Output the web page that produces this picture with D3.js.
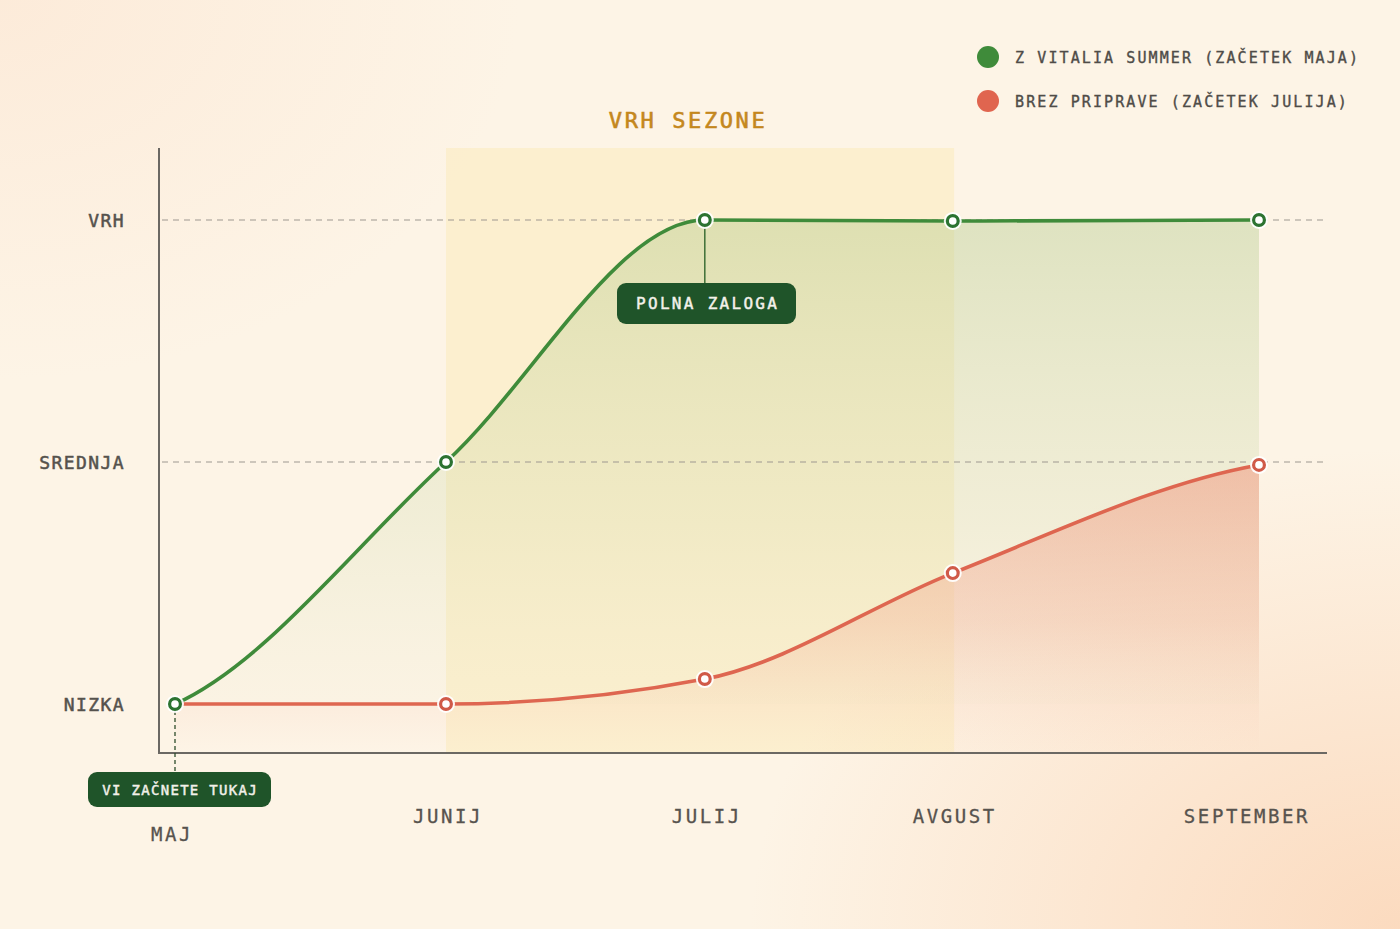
<!DOCTYPE html>
<html>
<head>
<meta charset="utf-8">
<script src="https://cdn.jsdelivr.net/npm/d3@7"></script>
<style>
  html, body { margin: 0; padding: 0; }
  body {
    width: 1400px; height: 929px; overflow: hidden;
    background:
      radial-gradient(ellipse 650px 480px at 100% 100%, rgba(251,214,184,0.85), rgba(251,214,184,0) 100%),
      radial-gradient(ellipse 520px 380px at 0% 0%, rgba(252,231,212,0.7), rgba(252,231,212,0) 100%),
      #fdf4e6;
  }
  svg { display: block; }
  text { font-family: "DejaVu Sans Mono", "Liberation Mono", monospace; }
</style>
</head>
<body>
<svg id="chart" width="1400" height="929"></svg>
<script>
// ---- data ----
const months = ["MAJ", "JUNIJ", "JULIJ", "AVGUST", "SEPTEMBER"];
const monthPos = [0, 1, 1.955, 2.87, 4];          // position in months from start of May
const levels = ["NIZKA", "SREDNJA", "VRH"];
const vitalia = [0, 1, 2, 1.996, 2];              // Z Vitalia Summer (začetek maja)
const brez = [0, 0, 0.103, 0.541, 0.988];         // Brez priprave (začetek julija)
const seriesNames = ["Z VITALIA SUMMER (ZAČETEK MAJA)", "BREZ PRIPRAVE (ZAČETEK JULIJA)"];
const seasonRange = [1, 2.875];                    // Vrh sezone: junij – avgust
const seasonLabel = "VRH SEZONE";
const annotations = ["POLNA ZALOGA", "VI ZAČNETE TUKAJ"];

// ---- smooth curve: monotone (Steffen) interior tangents, eased endpoints ----
function sgn(v) { return v < 0 ? -1 : 1; }
function EaseCurve(context) { this._context = context; }
EaseCurve.prototype = {
  areaStart() { this._line = 0; },
  areaEnd() { this._line = NaN; },
  lineStart() { this._pts = []; },
  point(px, py) { this._pts.push([+px, +py]); },
  lineEnd() {
    const p = this._pts, n = p.length, c = this._context;
    if (n) {
      if (this._line) c.lineTo(p[0][0], p[0][1]); else c.moveTo(p[0][0], p[0][1]);
    }
    if (n === 2) c.lineTo(p[1][0], p[1][1]);
    if (n > 2) {
      const t = new Array(n);
      for (let i = 1; i < n - 1; i++) {
        const h0 = p[i][0] - p[i - 1][0], h1 = p[i + 1][0] - p[i][0];
        const s0 = (p[i][1] - p[i - 1][1]) / h0, s1 = (p[i + 1][1] - p[i][1]) / h1;
        const q = (s0 * h1 + s1 * h0) / (h0 + h1);
        t[i] = (sgn(s0) + sgn(s1)) * Math.min(Math.abs(s0), Math.abs(s1), 0.5 * Math.abs(q)) || 0;
      }
      t[0] = 0.5 * (p[1][1] - p[0][1]) / (p[1][0] - p[0][0]);
      t[n - 1] = 0.5 * (p[n - 1][1] - p[n - 2][1]) / (p[n - 1][0] - p[n - 2][0]);
      for (let i = 0; i < n - 1; i++) {
        const dx = (p[i + 1][0] - p[i][0]) / 3;
        c.bezierCurveTo(p[i][0] + dx, p[i][1] + dx * t[i],
                        p[i + 1][0] - dx, p[i + 1][1] - dx * t[i + 1],
                        p[i + 1][0], p[i + 1][1]);
      }
    }
    if (this._line || (this._line !== 0 && n === 1)) c.closePath();
    this._line = 1 - this._line;
  }
};
const curveEase = ctx => new EaseCurve(ctx);

// ---- setup ----
const svg = d3.select("#chart");
const green = "#3f8b3a", red = "#de6650", dark = "#1f5429";
const x = d3.scaleLinear().domain([0, 4]).range([175, 1259]);
const y = d3.scaleLinear().domain([0, 2]).range([704, 220]);
const plotTop = 148, plotBottom = 753, axisLeft = 159, axisRight = 1327;

const defs = svg.append("defs");
const gG = defs.append("linearGradient").attr("id", "gfill")
  .attr("gradientUnits", "userSpaceOnUse").attr("x1", 0).attr("y1", 220).attr("x2", 0).attr("y2", 720);
gG.append("stop").attr("offset", 0).attr("stop-color", "#a8c47e").attr("stop-opacity", 0.36);
gG.append("stop").attr("offset", 0.6).attr("stop-color", "#c3d59c").attr("stop-opacity", 0.2);
gG.append("stop").attr("offset", 1).attr("stop-color", "#dbe5bd").attr("stop-opacity", 0.05);
const rG = defs.append("linearGradient").attr("id", "rfill")
  .attr("gradientUnits", "userSpaceOnUse").attr("x1", 0).attr("y1", 462).attr("x2", 0).attr("y2", 753);
rG.append("stop").attr("offset", 0).attr("stop-color", "#f09d85").attr("stop-opacity", 0.58);
rG.append("stop").attr("offset", 0.55).attr("stop-color", "#f3ae96").attr("stop-opacity", 0.36);
rG.append("stop").attr("offset", 1).attr("stop-color", "#f6c4ad").attr("stop-opacity", 0.0);

// season band
svg.append("rect")
  .attr("x", x(seasonRange[0])).attr("y", plotTop)
  .attr("width", x(seasonRange[1]) - x(seasonRange[0])).attr("height", plotBottom - plotTop)
  .attr("fill", "#fbe6b0").attr("opacity", 0.42);
svg.append("text")
  .attr("x", (x(seasonRange[0]) + x(seasonRange[1])) / 2 - 12).attr("y", 128)
  .attr("text-anchor", "middle").attr("font-size", 22).attr("font-weight", 400)
  .attr("stroke", "#c4871d").attr("stroke-width", 0.6)
  .attr("letter-spacing", 2.6).attr("fill", "#c4871d").text(seasonLabel);

const ptsG = monthPos.map((p, i) => [p, vitalia[i]]);
const ptsR = monthPos.map((p, i) => [p, brez[i]]);

// fills
svg.append("path").datum(ptsG)
  .attr("d", d3.area().x(d => x(d[0])).y0(y(0)).y1(d => y(d[1])).curve(curveEase))
  .attr("fill", "url(#gfill)");
svg.append("path").datum(ptsR)
  .attr("d", d3.area().x(d => x(d[0])).y0(plotBottom).y1(d => y(d[1])).curve(curveEase))
  .attr("fill", "url(#rfill)");

// grid lines
[1, 2].forEach(v => {
  svg.append("line").attr("x1", axisLeft + 3).attr("x2", axisRight)
    .attr("y1", y(v)).attr("y2", y(v))
    .attr("stroke", "#9d978f").attr("stroke-width", 1.2).attr("stroke-dasharray", "6,5");
});

// axes
const yAxis = d3.axisLeft(y).tickValues([0, 1, 2]).tickFormat(d => levels[d]).tickSize(0).tickPadding(34);
const yg = svg.append("g").attr("transform", `translate(${axisLeft},0)`).call(yAxis);
yg.select(".domain").remove();
yg.selectAll("text").attr("font-size", 18).attr("font-weight", 400).attr("letter-spacing", 1.4)
  .attr("fill", "#55524d").attr("stroke", "#55524d").attr("stroke-width", 0.5)
  .attr("font-family", "DejaVu Sans Mono").attr("dy", "0.35em");
svg.append("line").attr("x1", axisLeft).attr("x2", axisLeft).attr("y1", plotTop).attr("y2", plotBottom)
  .attr("stroke", "#6b6863").attr("stroke-width", 2);
svg.append("line").attr("x1", axisLeft - 1).attr("x2", axisRight).attr("y1", plotBottom).attr("y2", plotBottom)
  .attr("stroke", "#6b6863").attr("stroke-width", 2);

// month labels
svg.selectAll(".month").data(months).join("text")
  .attr("x", (d, i) => x(monthPos[i]) + (i === 0 ? -3 : i === months.length - 1 ? -12 : 2))
  .attr("y", (d, i) => i === 0 ? 841 : 823)
  .attr("text-anchor", "middle").attr("font-size", 19).attr("font-weight", 400)
  .attr("stroke", "#57534e").attr("stroke-width", 0.3)
  .attr("letter-spacing", 2.6).attr("fill", "#57534e").text(d => d);

// lines
svg.append("path").datum(ptsG)
  .attr("d", d3.line().x(d => x(d[0])).y(d => y(d[1])).curve(curveEase))
  .attr("fill", "none").attr("stroke", green).attr("stroke-width", 3.6).attr("stroke-linecap", "round");
svg.append("path").datum(ptsR)
  .attr("d", d3.line().x(d => x(d[0])).y(d => y(d[1])).curve(curveEase))
  .attr("fill", "none").attr("stroke", red).attr("stroke-width", 3.6).attr("stroke-linecap", "round");

// annotation connectors
svg.append("line").attr("x1", x(monthPos[2])).attr("x2", x(monthPos[2]))
  .attr("y1", y(vitalia[2])).attr("y2", 284).attr("stroke", "#3d6e37").attr("stroke-width", 1.5);
svg.append("line").attr("x1", x(monthPos[0])).attr("x2", x(monthPos[0]))
  .attr("y1", y(vitalia[0])).attr("y2", 773).attr("stroke", "#2f4d2c").attr("stroke-width", 1.3)
  .attr("stroke-dasharray", "4,3");

// points
function drawPoints(pts, color) {
  const g = svg.append("g");
  g.selectAll("circle.halo").data(pts).join("circle")
    .attr("cx", d => x(d[0])).attr("cy", d => y(d[1])).attr("r", 9).attr("fill", "#fff").attr("opacity", 0.92);
  g.selectAll("circle.dot").data(pts).join("circle")
    .attr("cx", d => x(d[0])).attr("cy", d => y(d[1])).attr("r", 5.4)
    .attr("fill", "#fff").attr("stroke", color).attr("stroke-width", 3.2);
}
drawPoints(ptsR.slice(1), "#d05a48");
drawPoints(ptsG, "#2c7331");

// annotation boxes
function badge(cx, cy, w, h, label, fs, ls) {
  svg.append("rect").attr("x", cx - w / 2).attr("y", cy - h / 2).attr("width", w).attr("height", h)
    .attr("rx", 9).attr("fill", dark);
  svg.append("text").attr("x", cx + ls / 2).attr("y", cy).attr("dy", "0.36em")
    .attr("text-anchor", "middle").attr("font-size", fs).attr("font-weight", 400)
    .attr("stroke", "#f3f1ea").attr("stroke-width", 0.45)
    .attr("letter-spacing", ls).attr("fill", "#f3f1ea").text(label);
}
badge(706.5, 303.5, 179, 41, annotations[0], 16, 2.3);
badge(179.5, 789.5, 183, 35, annotations[1], 14, 1.3);

// legend
const lg = svg.append("g");
[green, red].forEach((c, i) => {
  lg.append("circle").attr("cx", 988).attr("cy", 57 + i * 44).attr("r", 11).attr("fill", i === 0 ? "#3f8b3a" : "#e0654f");
  lg.append("text").attr("x", 1015).attr("y", 58 + i * 44).attr("dy", "0.36em")
    .attr("font-size", 15).attr("font-weight", 400).attr("letter-spacing", 2.1)
    .attr("stroke", "#4f4c48").attr("stroke-width", 0.35)
    .attr("fill", "#4f4c48").text(seriesNames[i]);
});
</script>
</body>
</html>
